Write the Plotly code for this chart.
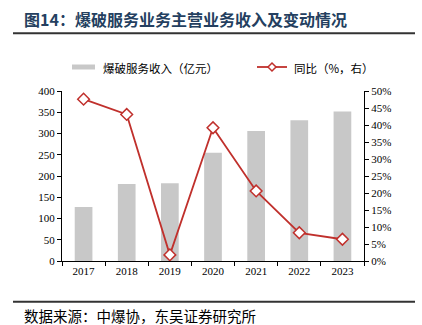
import plotly.graph_objects as go

# Data
years = ["2017", "2018", "2019", "2020", "2021", "2022", "2023"]
revenue = [127, 181, 183, 255, 306, 331, 352]          # 亿元
yoy = [47.6, 43.1, 1.8, 39.2, 20.6, 8.3, 6.4]          # %
left_ticks = [0, 50, 100, 150, 200, 250, 300, 350, 400]
right_ticks = [0, 5, 10, 15, 20, 25, 30, 35, 40, 45, 50]

W, H = 422, 325
L, R, T, B = 62, 58, 91, 64
PW, PH = W - L - R, H - T - B

BAR = "#c8c8c8"
RED = "#c0302c"
NAVY = "#243f60"
CJK = "Noto Sans CJK SC"
SERIF = "Liberation Serif"


def px(x):
    return (x - L) / PW


def py(y):
    return (H - B - y) / PH


fig = go.Figure()
fig.add_trace(go.Bar(
    x=years, y=revenue, name="爆破服务收入（亿元）",
    marker=dict(color=BAR, line=dict(width=0)), width=0.41,
    yaxis="y", showlegend=False,
))
fig.add_trace(go.Scatter(
    x=years, y=yoy, name="同比（%，右）", mode="lines+markers",
    line=dict(color=RED, width=1.8),
    marker=dict(symbol="diamond", size=9, color="white",
                line=dict(color=RED, width=1.5)),
    yaxis="y2", showlegend=False, cliponaxis=False,
))

tickfont = dict(family=SERIF, size=11, color="#000")
fig.update_layout(
    width=W, height=H,
    margin=dict(l=L, r=R, t=T, b=B),
    paper_bgcolor="white", plot_bgcolor="white",
    xaxis=dict(type="category", showline=True, linecolor="#000", linewidth=1,
               ticks="outside", tickson="boundaries", ticklen=4, tickcolor="#000",
               tickfont=tickfont, showgrid=False, fixedrange=True),
    yaxis=dict(range=[0, 400], tickvals=left_ticks, showline=True, linecolor="#000",
               linewidth=1, ticks="outside", ticklen=4, tickcolor="#000",
               tickfont=tickfont, showgrid=False, zeroline=False),
    yaxis2=dict(range=[0, 50], tickvals=right_ticks,
                ticktext=[f"{v}%" for v in right_ticks], overlaying="y", side="right",
                showline=True, linecolor="#000", linewidth=1, ticks="outside",
                ticklen=4, tickcolor="#000", tickfont=tickfont, showgrid=False,
                zeroline=False),
    bargap=0.59,
)


def diamond(cx, cy, r):
    pts = [(px(cx), py(cy - r)), (px(cx + r), py(cy)), (px(cx), py(cy + r)), (px(cx - r), py(cy))]
    return "M " + " L ".join(f"{x:.5f},{y:.5f}" for x, y in pts) + " Z"


shapes = [
    # rules under the title and above the source line
    dict(type="line", xref="paper", yref="paper", x0=px(13), x1=px(415),
         y0=py(33.3), y1=py(33.3), line=dict(color="#333", width=2)),
    dict(type="line", xref="paper", yref="paper", x0=px(13), x1=px(415),
         y0=py(301.7), y1=py(301.7), line=dict(color="#333", width=2)),
    # legend swatches
    dict(type="rect", xref="paper", yref="paper", x0=px(72), x1=px(95),
         y0=py(69.5), y1=py(64.5), fillcolor=BAR, line=dict(width=0)),
    dict(type="line", xref="paper", yref="paper", x0=px(257), x1=px(287),
         y0=py(67), y1=py(67), line=dict(color=RED, width=1.8)),
    dict(type="path", xref="paper", yref="paper", path=diamond(272, 67, 4),
         fillcolor="white", line=dict(color=RED, width=1.5)),
]
fig.update_layout(shapes=shapes)

ann = [
    dict(text="<b>图14：爆破服务业务主营业务收入及变动情况</b>", x=px(22), y=py(18.5),
         xanchor="left", yanchor="middle", font=dict(family=CJK, size=16, color=NAVY)),
    dict(text="爆破服务收入（亿元）", x=px(101), y=py(67.5), xanchor="left",
         yanchor="middle", font=dict(family=CJK, size=11.5, color="#000")),
    dict(text="同比（%，右）", x=px(292), y=py(67.5), xanchor="left",
         yanchor="middle", font=dict(family=CJK, size=11.5, color="#000")),
    dict(text="数据来源：中爆协，东吴证券研究所", x=px(22), y=py(315.5), xanchor="left",
         yanchor="middle", font=dict(family=CJK, size=14.5, color="#000")),
]
for a in ann:
    a.update(xref="paper", yref="paper", showarrow=False)
fig.update_layout(annotations=ann)

fig.write_html("out.html")
